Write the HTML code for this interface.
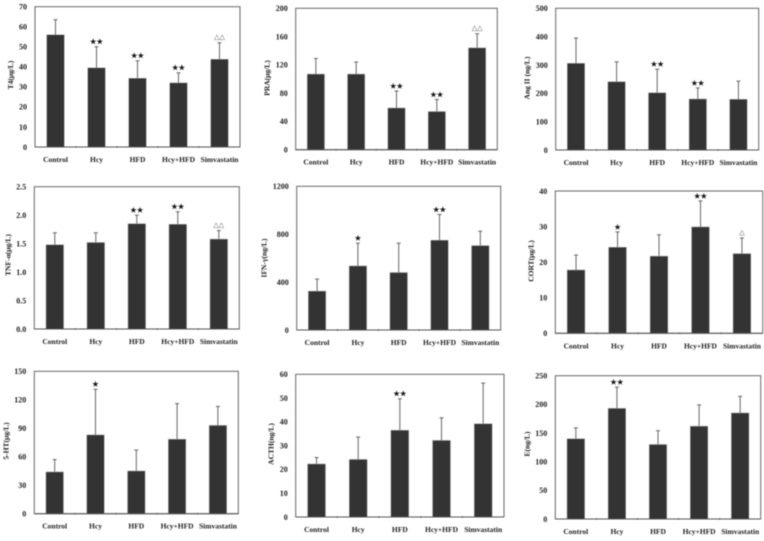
<!DOCTYPE html>
<html>
<head>
<meta charset="utf-8">
<title>Bar chart panels</title>
<style>
html,body{margin:0;padding:0;background:#fff;width:764px;height:541px;overflow:hidden}
svg{display:block;filter:blur(0.4px)}
text{font-family:"Liberation Serif","DejaVu Serif",serif;font-weight:bold;fill:#222}
.mark{font-family:"DejaVu Sans",sans-serif;font-weight:normal}
</style>
</head>
<body>
<svg id="figure" width="764" height="541" viewBox="0 0 764 541" xmlns="http://www.w3.org/2000/svg"></svg>
<script>
const categories = ['Control', 'Hcy', 'HFD', 'Hcy+HFD', 'Simvastatin'];

const t4Ticks = ['0', '10', '20', '30', '40', '50', '60', '70'];
const t4Values = [56, 39.5, 34.3, 32, 43.8];
const t4ErrorTops = [63.5, 50, 43, 37, 52];
const t4Marks = ['', '★★', '★★', '★★', '△△'];

const praTicks = ['0', '40', '80', '120', '160', '200'];
const praValues = [107, 107, 59, 54, 144];
const praErrorTops = [129, 124, 83, 71, 164];
const praMarks = ['', '', '★★', '★★', '△△'];

const angTicks = ['0', '100', '200', '300', '400', '500'];
const angValues = [306, 241, 202, 180, 179];
const angErrorTops = [395, 311, 285, 219, 243];
const angMarks = ['', '', '★★', '★★', ''];

const tnfTicks = ['0.0', '0.5', '1.0', '1.5', '2.0', '2.5'];
const tnfValues = [1.48, 1.52, 1.85, 1.84, 1.58];
const tnfErrorTops = [1.69, 1.69, 2.0, 2.06, 1.73];
const tnfMarks = ['', '', '★★', '★★', '△△'];

const ifnTicks = ['0', '400', '800', '1200'];
const ifnValues = [325, 535, 480, 750, 705];
const ifnErrorTops = [425, 725, 725, 965, 825];
const ifnMarks = ['', '★', '', '★★', ''];

const cortTicks = ['0', '10', '20', '30', '40'];
const cortValues = [17.8, 24.2, 21.7, 29.9, 22.4];
const cortErrorTops = [22, 28.5, 27.7, 37.2, 26.8];
const cortMarks = ['', '★', '', '★★', '△'];

const htTicks = ['0', '30', '60', '90', '120', '150'];
const htValues = [44, 83, 45, 78.5, 93];
const htErrorTops = [57, 131, 67, 116, 113];
const htMarks = ['', '★', '', '', ''];

const acthTicks = ['0', '10', '20', '30', '40', '50', '60'];
const acthValues = [22.3, 24.2, 36.5, 32.2, 39.2];
const acthErrorTops = [25, 33.6, 49.7, 41.7, 56.3];
const acthMarks = ['', '', '★★', '', ''];

const eTicks = ['0', '50', '100', '150', '200', '250'];
const eValues = [140, 193, 130, 162, 185];
const eErrorTops = [159, 230, 154, 199, 214];
const eMarks = ['', '★★', '', '', ''];

const SVG_NS = 'http://www.w3.org/2000/svg';
const figure = document.getElementById('figure');

function make(parent, tag, attrs, content) {
  const node = document.createElementNS(SVG_NS, tag);
  for (const key in attrs) node.setAttribute(key, attrs[key]);
  if (content !== undefined) node.textContent = content;
  parent.appendChild(node);
  return node;
}

function drawPanel(slug, title, box, ticks, values, errorTops, marks) {
  const group = make(figure, 'g', {});
  
  

  const yMax = parseFloat(ticks[ticks.length - 1]);
  const yScale = function (v) { return box.bottom - (v / yMax) * (box.bottom - box.top); };
  const band = (box.right - box.left) / categories.length;
  const xScale = function (i) { return box.left + band * (i + 0.5); };
  const barWidth = band * 0.43;

  const frame = make(group, 'rect', {
    x: box.left, y: box.top, width: box.right - box.left, height: box.bottom - box.top,
    fill: '#fff', stroke: '#666', 'stroke-width': 1
  });
  
  

  ticks.forEach(function (label) {
    const tickText = make(group, 'text', {
      x: box.left - 8, y: yScale(parseFloat(label)) + 2.8,
      'text-anchor': 'end', 'font-size': 8
    }, label);
    
    
  });

  const yTitle = make(group, 'text', {
    transform: 'translate(' + box.titleX + ',' + box.titleY + ') rotate(-90)',
    'text-anchor': 'middle', 'font-size': 7.5
  }, title);
  
  

  categories.forEach(function (name, i) {
    const cx = xScale(i);
    const y0 = yScale(0);
    const yTop = yScale(values[i]);
    const yErr = yScale(errorTops[i]);

    const errLine = make(group, 'line', {
      x1: cx, x2: cx, y1: yErr, y2: yTop, stroke: '#666', 'stroke-width': 1
    });
    
    

    const errCap = make(group, 'line', {
      x1: cx - 2, x2: cx + 2, y1: yErr, y2: yErr, stroke: '#666', 'stroke-width': 1
    });
    
    

    const bar = make(group, 'rect', {
      x: cx - barWidth / 2, y: yTop, width: barWidth, height: y0 - yTop,
      fill: '#333', stroke: '#aaa', 'stroke-width': 0.5
    });
    
    

    if (i > 0) {
      const xTick = make(group, 'line', {
        x1: box.left + band * i, x2: box.left + band * i,
        y1: box.bottom - 1, y2: box.bottom + 1, stroke: '#777', 'stroke-width': 0.8
      });
      
      
    }

    const catLabel = make(group, 'text', {
      x: cx, y: box.bottom + 15, 'text-anchor': 'middle', 'font-size': 7.5
    }, name);
    
    

    if (marks[i]) {
      const isTriangle = marks[i].indexOf('△') >= 0;
      const sigMark = make(group, 'text', {
        x: cx, y: yErr - (isTriangle ? 3.6 : 2.6), 'text-anchor': 'middle',
        'font-size': isTriangle ? 7 : 7.4, class: 'mark',
        style: isTriangle ? 'fill:#555' : 'fill:#111;stroke:#111;stroke-width:0.2'
      }, marks[i]);
      
      
    }
  });

  const baseline = make(group, 'line', {
    x1: box.left, x2: box.right, y1: box.bottom, y2: box.bottom, stroke: '#555', 'stroke-width': 1
  });
  
  
}

drawPanel('t4', 'T4(μg/L)', {left: 35, right: 240, top: 6.7, bottom: 147, titleX: 13, titleY: 75}, t4Ticks, t4Values, t4ErrorTops, t4Marks);
drawPanel('pra', 'PRA(μg/L)', {left: 295.7, right: 497.3, top: 8.3, bottom: 149.7, titleX: 269.5, titleY: 78}, praTicks, praValues, praErrorTops, praMarks);
drawPanel('ang', 'Ang II (ng/L)', {left: 555.7, right: 758.7, top: 8.3, bottom: 150, titleX: 529.5, titleY: 78}, angTicks, angValues, angErrorTops, angMarks);
drawPanel('tnf', 'TNF-α(μg/L)', {left: 34.3, right: 239.3, top: 186.7, bottom: 329, titleX: 10.5, titleY: 255}, tnfTicks, tnfValues, tnfErrorTops, tnfMarks);
drawPanel('ifn', 'IFN-γ(ng/L)', {left: 296.7, right: 500.7, top: 186.3, bottom: 330, titleX: 266.5, titleY: 258}, ifnTicks, ifnValues, ifnErrorTops, ifnMarks);
drawPanel('cort', 'CORT(μg/L)', {left: 555.3, right: 762.7, top: 191, bottom: 333.3, titleX: 533.5, titleY: 261}, cortTicks, cortValues, cortErrorTops, cortMarks);
drawPanel('serotonin', '5-HT(μg/L)', {left: 34.3, right: 238.3, top: 371.3, bottom: 513.7, titleX: 8.5, titleY: 441}, htTicks, htValues, htErrorTops, htMarks);
drawPanel('acth', 'ACTH(ng/L)', {left: 295.7, right: 504, top: 374.3, bottom: 517, titleX: 273.5, titleY: 444}, acthTicks, acthValues, acthErrorTops, acthMarks);
drawPanel('estradiol', 'E(ng/L)', {left: 555.3, right: 760.7, top: 375.7, bottom: 519, titleX: 529.5, titleY: 444}, eTicks, eValues, eErrorTops, eMarks);
</script>
</body>
</html>
